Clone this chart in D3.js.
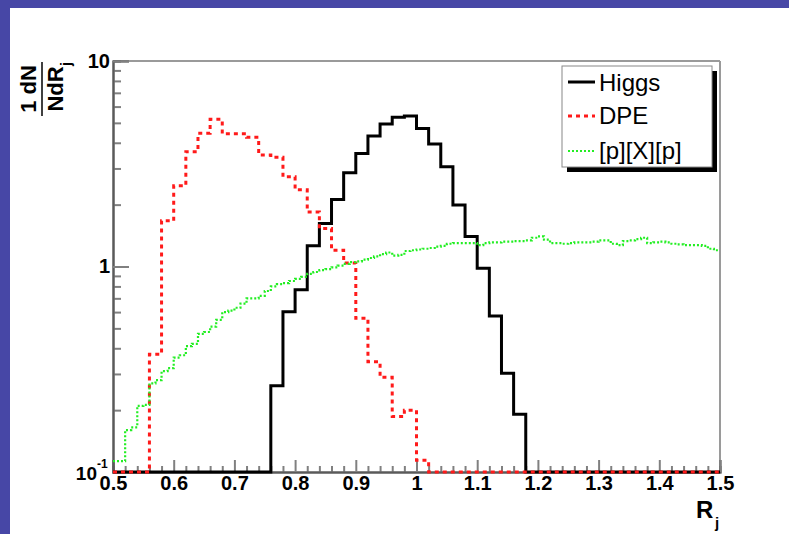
<!DOCTYPE html>
<html><head><meta charset="utf-8">
<script src="https://cdn.jsdelivr.net/npm/d3@7"></script>
<style>html,body{margin:0;padding:0;background:#fff;} svg{display:block;}</style>
</head><body><svg id="c" width="789" height="534"></svg>
<script>
// ---- data ----
const binLow = 0.5, binHigh = 1.5;
// Higgs, 50 bins of 0.02
const higgs = [0,0,0,0,0,0,0,0,0,0,0,0,0,
  0.263,0.603,0.77,1.26,1.62,2.12,2.86,3.55,4.32,4.94,5.32,5.4,4.7,3.95,3.06,1.99,1.40,0.98,0.574,0.302,0.191,
  0,0,0,0,0,0,0,0,0,0,0,0,0,0,0,0];
// DPE, 50 bins of 0.02
const dpe = [0,0,0,
  0.374,1.67,2.47,3.62,4.45,5.2,4.42,4.42,4.25,3.49,3.4,2.73,2.36,1.84,1.53,1.2,1.04,0.56,0.344,0.289,0.186,0.20,0.114,
  0,0,0,0,0,0,0,0,0,0,0,0,0,0,0,0,0,0,0,0,0,0,0,0];
// [p][X][p], 100 bins of 0.01
const pxp = [0.113,0.113,0.16,0.165,0.21,0.212,0.27,0.28,0.31,0.32,
  0.36,0.37,0.41,0.42,0.47,0.48,0.51,0.55,0.60,0.61,
  0.63,0.66,0.70,0.70,0.72,0.76,0.80,0.82,0.83,0.85,
  0.87,0.89,0.92,0.94,0.96,0.97,0.99,1.01,1.03,1.05,
  1.06,1.08,1.10,1.12,1.15,1.17,1.13,1.14,1.19,1.20,
  1.21,1.22,1.23,1.25,1.26,1.29,1.30,1.30,1.30,1.30,
  1.27,1.30,1.31,1.31,1.32,1.32,1.33,1.33,1.34,1.38,
  1.40,1.35,1.30,1.30,1.29,1.30,1.31,1.31,1.31,1.32,
  1.34,1.34,1.29,1.27,1.33,1.34,1.36,1.38,1.30,1.31,
  1.32,1.31,1.29,1.28,1.27,1.27,1.27,1.26,1.22,1.20];
const seriesNames = ["Higgs","DPE","[p][X][p]"];
const xTickValues = [0.5,0.6,0.7,0.8,0.9,1.0,1.1,1.2,1.3,1.4,1.5];
const xTickLabels = ["0.5","0.6","0.7","0.8","0.9","1","1.1","1.2","1.3","1.4","1.5"];
const yTickValues = [0.1,1,10];
const yTickLabels = ["10^-1","1","10"];

// ---- layout ----
const L = 113, R = 720, T = 61, B = 472;
const FONT = "'Liberation Sans', Arial, Helvetica, sans-serif";
const svg = d3.select("#c");

svg.append("rect").attr("x",0).attr("y",0).attr("width",789).attr("height",8).attr("fill","#4747a6");
svg.append("rect").attr("x",0).attr("y",0).attr("width",10).attr("height",534).attr("fill","#4747a6");

const x = d3.scaleLinear().domain([binLow, binHigh]).range([L, R]);
const y = d3.scaleLog().domain([0.1, 10]).range([B, T]);

// frame top/right
svg.append("line").attr("x1",L).attr("x2",R).attr("y1",T).attr("y2",T).attr("stroke","#9a9a9a").attr("stroke-width",2);
svg.append("line").attr("x1",R).attr("x2",R).attr("y1",T).attr("y2",B).attr("stroke","#9a9a9a").attr("stroke-width",2);

// minor ticks
const xMinor = d3.range(0, 51).map(i => binLow + i*0.02).filter(v => Math.abs(Math.round(v*10)-v*10) > 1e-6);
const yMinor = [0.2,0.3,0.4,0.5,0.6,0.7,0.8,0.9,2,3,4,5,6,7,8,9];

const gxm = svg.append("g").attr("transform",`translate(0,${B})`)
  .call(d3.axisBottom(x).tickValues(xMinor).tickSize(-6).tickFormat(""));
const gx = svg.append("g").attr("transform",`translate(0,${B})`)
  .call(d3.axisBottom(x).tickValues(xTickValues).tickSize(-12).tickPadding(4)
    .tickFormat((d,i) => xTickLabels[i]));
const gym = svg.append("g").attr("transform",`translate(${L},0)`)
  .call(d3.axisLeft(y).tickValues(yMinor).tickSize(-8).tickFormat(""));
const gy = svg.append("g").attr("transform",`translate(${L},0)`)
  .call(d3.axisLeft(y).tickValues(yTickValues).tickSize(-16).tickPadding(3)
    .tickFormat((d,i) => yTickLabels[i].includes("^") ? "" : yTickLabels[i]));

[gxm,gx,gym,gy].forEach(g => {
  g.select(".domain").attr("stroke","#5a5a5a").attr("stroke-width",2);
  g.selectAll(".tick line").attr("stroke","#808080").attr("stroke-width",2);
  g.selectAll("text").attr("font-family",FONT).attr("font-weight","bold").attr("font-size",20).attr("fill","#000");
});

// 10^-1 label
const lab = yTickLabels[0].split("^");
svg.append("text").attr("x",97).attr("y",y(yTickValues[0])+8).attr("text-anchor","end")
  .attr("font-family",FONT).attr("font-weight","bold").attr("font-size",19).text(lab[0]);
svg.append("text").attr("x",97).attr("y",y(yTickValues[0])-4).attr("text-anchor","start")
  .attr("font-family",FONT).attr("font-weight","bold").attr("font-size",12).text(lab[1]);

// ---- histograms ----
svg.append("clipPath").attr("id","clip").append("rect")
  .attr("x",L-2).attr("y",T-2).attr("width",R-L+4).attr("height",B-T+4);
const line = d3.line().x(d => x(d[0])).y(d => y(Math.max(d[1], 0.1)));
function steps(vals){
  const w = (binHigh-binLow)/vals.length;
  const pts = [];
  vals.forEach((v,i) => { const lo = binLow + i*w; pts.push([lo,v],[lo+w,v]); });
  return line(pts);
}
const styles = [
  {data: higgs, color:"#000000", width:3, dash:null},
  {data: dpe, color:"#ff1a1a", width:3, dash:"4,4"},
  {data: pxp, color:"#22ee22", width:2.2, dash:"2,2"}
];
const gp = svg.append("g").attr("clip-path","url(#clip)");
styles.forEach(s => {
  gp.append("path").attr("d", steps(s.data)).attr("fill","none")
    .attr("stroke", s.color).attr("stroke-width", s.width)
    .attr("stroke-dasharray", s.dash).attr("stroke-linejoin","miter");
});

// ---- axis titles ----
const ty = svg.append("g").attr("transform","rotate(-90)");
ty.append("text").attr("x",-89).attr("y",36).attr("text-anchor","middle")
  .attr("font-family",FONT).attr("font-weight","bold").attr("font-size",22).text("1 dN");
ty.append("line").attr("x1",-116).attr("x2",-62).attr("y1",42).attr("y2",42).attr("stroke","#000").attr("stroke-width",1.5);
ty.append("text").attr("x",-89).attr("y",63).attr("text-anchor","middle")
  .attr("font-family",FONT).attr("font-weight","bold").attr("font-size",22).text("NdR");
ty.append("text").attr("x",-66).attr("y",71).attr("text-anchor","start")
  .attr("font-family",FONT).attr("font-weight","bold").attr("font-size",14).text("j");

svg.append("text").attr("x",696).attr("y",518).attr("text-anchor","start")
  .attr("font-family",FONT).attr("font-weight","bold").attr("font-size",24).text("R");
svg.append("text").attr("x",715).attr("y",528).attr("text-anchor","start")
  .attr("font-family",FONT).attr("font-weight","bold").attr("font-size",15).text("j");

// ---- legend ----
const lg = {x:562, y:66, w:150, h:101};
svg.append("rect").attr("x",lg.x+5).attr("y",lg.y+5).attr("width",lg.w).attr("height",lg.h).attr("fill","#000");
svg.append("rect").attr("x",lg.x).attr("y",lg.y).attr("width",lg.w).attr("height",lg.h)
  .attr("fill","#fff").attr("stroke","#888").attr("stroke-width",1);
const rowY = [82, 116, 151];
const baseY = [91, 124, 159];
styles.forEach((s,i) => {
  svg.append("line").attr("x1",568).attr("x2",595).attr("y1",rowY[i]).attr("y2",rowY[i])
    .attr("stroke",s.color).attr("stroke-width",s.width).attr("stroke-dasharray",s.dash);
  svg.append("text").attr("x",599).attr("y",baseY[i]).attr("font-family",FONT)
    .attr("font-size",24).attr("fill","#000").text(seriesNames[i]);
});
</script>
</body></html>
